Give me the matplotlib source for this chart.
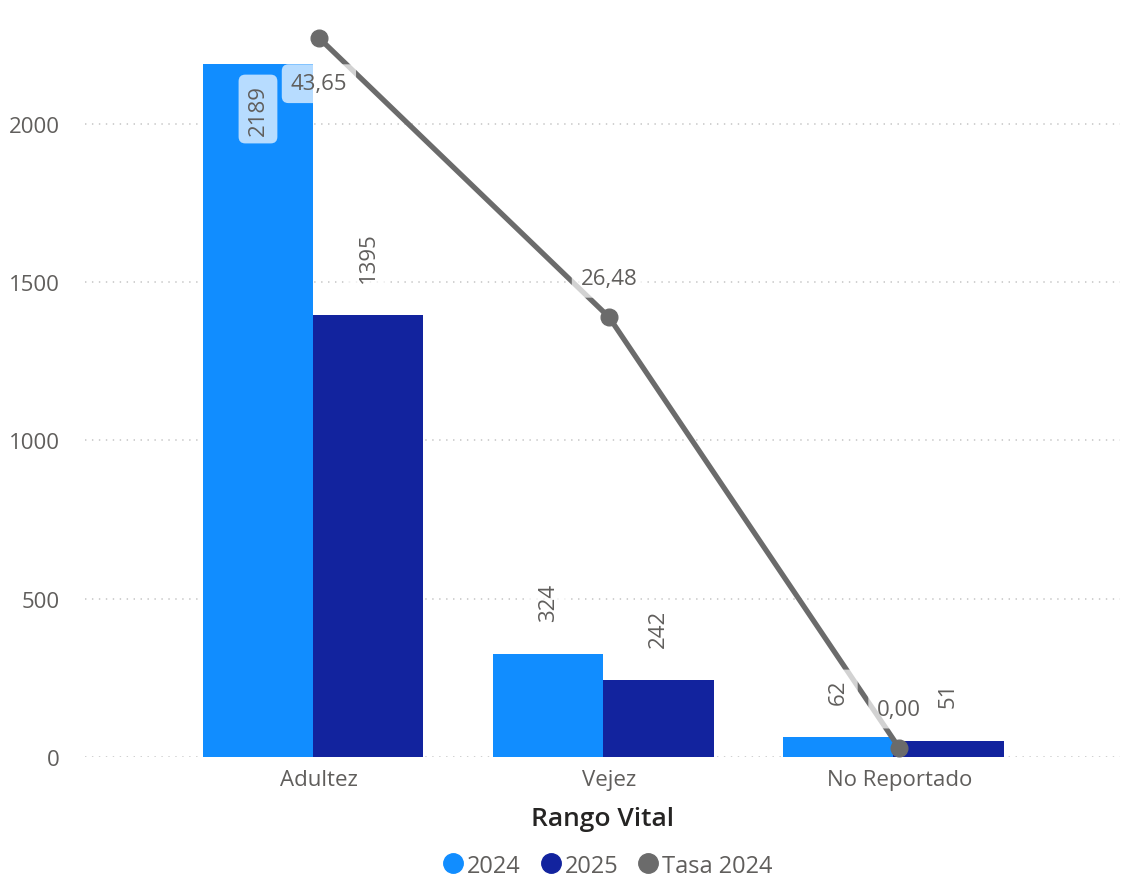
import matplotlib
matplotlib.use("Agg")
import matplotlib.pyplot as plt
from matplotlib.lines import Line2D
import numpy as np

plt.rcParams['font.family'] = ['Open Sans', 'DejaVu Sans']
plt.rcParams['lines.scale_dashes'] = False

# data
categories = ['Adultez', 'Vejez', 'No Reportado']
values_2024 = [2189, 324, 62]
values_2025 = [1395, 242, 51]
tasa_2024 = [43.65, 26.48, 0.00]

c2024 = '#118DFF'
c2025 = '#12239E'
cline = '#6B6B6B'
txt = '#605E5C'

fig = plt.figure(figsize=(11.22, 8.79), dpi=100)
ax = fig.add_axes([0.0758, 0.1377, 0.9222, 0.834])
ax2 = ax.twinx()

x = np.arange(len(categories))
w = 0.38
# Power BI draws the category center a few px right of the bar pair
cx = x + 0.02

ax.bar(x - w / 2, values_2024, w, color=c2024, zorder=2)
ax.bar(x + w / 2, values_2025, w, color=c2025, zorder=2)

ax.set_xlim(-0.786, 2.78)
ax.set_ylim(0, 2316)
ax.set_yticks([0, 500, 1000, 1500, 2000])
ax.yaxis.grid(True, color='#C8C8C8', linestyle=(0, (1, 4)), linewidth=1.2, zorder=0)
ax.set_axisbelow(True)
ax.set_xticks(cx)
ax.set_xticklabels(categories)
ax.tick_params(axis='both', length=0, labelsize=16, labelcolor=txt)
ax.tick_params(axis='y', pad=18)
ax.tick_params(axis='x', pad=9)
ax.set_xlabel('Rango Vital', fontsize=19, color='#252423', fontweight='semibold', labelpad=11)
for s in ax.spines.values():
    s.set_visible(False)

ax2.plot(cx, tasa_2024, color=cline, linewidth=3.8, marker='o', markersize=12,
         solid_capstyle='round', zorder=3)
ax2.set_ylim(-0.553, 44.51)
ax2.set_yticks([])
for s in ax2.spines.values():
    s.set_visible(False)

box = dict(boxstyle='round,pad=0.4,rounding_size=0.3', fc='white', ec='none', alpha=0.7)

# bar labels
for xi, v in zip(x - w / 2, values_2024):
    if v > 2000:
        ax2.annotate(str(v), xy=(xi, v), xycoords=ax.transData, xytext=(0, -14),
                     textcoords='offset points', rotation=90, ha='center', va='top',
                     fontsize=16, color=txt, bbox=box, zorder=5)
    else:
        ax2.annotate(str(v), xy=(xi, v), xycoords=ax.transData, xytext=(0, 24),
                     textcoords='offset points', rotation=90, ha='center', va='bottom',
                     fontsize=16, color=txt, bbox=box, zorder=5)
for xi, v in zip(x + w / 2, values_2025):
    ax2.annotate(str(v), xy=(xi, v), xycoords=ax.transData, xytext=(0, 24),
                 textcoords='offset points', rotation=90, ha='center', va='bottom',
                 fontsize=16, color=txt, bbox=box, zorder=5)

# line labels
for i, (xi, v) in enumerate(zip(cx, tasa_2024)):
    lab = f'{v:.2f}'.replace('.', ',')
    dy = -33 if i == 0 else 28
    ax2.annotate(lab, xy=(xi, v), xytext=(0, dy), textcoords='offset points',
                 ha='center', va='center', fontsize=16, color=txt, bbox=box, zorder=5)

handles = [Line2D([], [], marker='o', linestyle='', markersize=14, color=c)
           for c in (c2024, c2025, cline)]
fig.legend(handles, ['2024', '2025', 'Tasa 2024'], loc='center', bbox_to_anchor=(0.541, 0.014),
           ncol=3, frameon=False, handletextpad=0.1, columnspacing=0.75, fontsize=17,
           labelcolor=txt, handlelength=1.0, borderpad=0)

fig.savefig('out.png', dpi=100)
